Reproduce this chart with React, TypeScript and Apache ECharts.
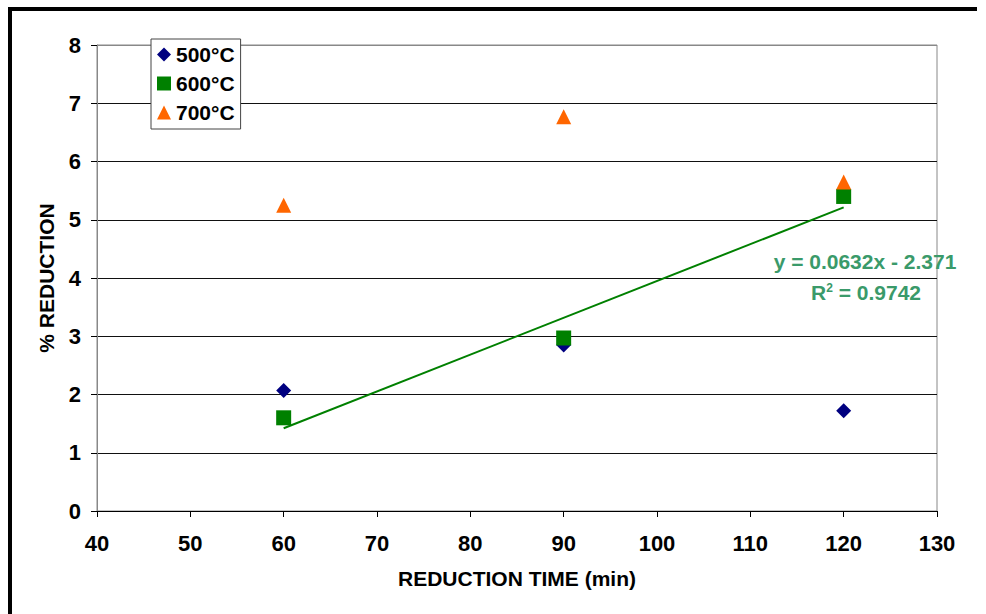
import React, { useEffect, useRef } from "react";
import * as echarts from "echarts";

const xTicks = [40, 130, 10];
const yTicks = [0, 8, 1];
const s500 = [[60, 2.07], [90, 2.85], [120, 1.72]];
const s600 = [[60, 1.6], [90, 2.97], [120, 5.4]];
const s700 = [[60, 5.25], [90, 6.77], [120, 5.65]];
const trendSlope = 0.0632;
const trendIntercept = -2.371;
const trendX = [60, 120];
const trendLabel = "y = 0.0632x - 2.371";
const r2Value = "0.9742";

const FONT = "'Liberation Sans', Arial, sans-serif";
const LABEL_GREEN = "#3A9A6A";

export default function App() {
  const ref = useRef<HTMLDivElement>(null);
  useEffect(() => {
    const chart = echarts.init(ref.current!, null, { renderer: "svg" });
    const trend = trendX.map((x) => [x, trendSlope * x + trendIntercept]);
    chart.setOption({
      animation: false,
      backgroundColor: "#fff",
      textStyle: { fontFamily: FONT },
      grid: {
        left: 97,
        right: 49,
        top: 45,
        bottom: 103,
        show: true,
        borderColor: "#888",
        borderWidth: 1,
        backgroundColor: "transparent",
      },
      legend: {
        data: ["500°C", "600°C", "700°C"],
        orient: "vertical",
        left: 151,
        top: 39,
        padding: [5, 6, 6, 6],
        itemGap: 8,
        itemWidth: 14,
        itemHeight: 14,
        itemStyle: { borderWidth: 0, opacity: 1 },
        backgroundColor: "#fff",
        borderColor: "#444",
        borderWidth: 1,
        textStyle: { fontFamily: FONT, fontWeight: "bold", fontSize: 21, color: "#000", lineHeight: 21 },
      },
      xAxis: {
        type: "value",
        min: xTicks[0],
        max: xTicks[1],
        interval: xTicks[2],
        name: "REDUCTION TIME (min)",
        nameLocation: "middle",
        nameGap: 57,
        nameTextStyle: { fontFamily: FONT, fontWeight: "bold", fontSize: 21, color: "#000" },
        axisLine: { lineStyle: { color: "#000", width: 1 } },
        axisTick: { show: true, length: 6, lineStyle: { color: "#000" } },
        axisLabel: { fontFamily: FONT, fontWeight: "bold", fontSize: 22, color: "#000", margin: 21 },
        splitLine: { show: false },
      },
      yAxis: {
        type: "value",
        min: yTicks[0],
        max: yTicks[1],
        interval: yTicks[2],
        name: "% REDUCTION",
        nameLocation: "middle",
        nameGap: 40,
        nameTextStyle: { fontFamily: FONT, fontWeight: "bold", fontSize: 21, color: "#000" },
        axisLine: { show: true, lineStyle: { color: "#888", width: 1 } },
        axisTick: { show: true, length: 6, lineStyle: { color: "#000" } },
        axisLabel: { fontFamily: FONT, fontWeight: "bold", fontSize: 22, color: "#000", margin: 16 },
        splitLine: {
          show: true,
          lineStyle: { color: ["#000", "#111", "#111", "#111", "#111", "#111", "#111", "#111", "#888"], width: 1 },
        },
      },
      series: [
        {
          name: "trend",
          type: "line",
          data: trend,
          symbol: "none",
          lineStyle: { color: "#008000", width: 2 },
          z: 2,
          silent: true,
        },
        {
          name: "500°C",
          type: "scatter",
          data: s500,
          symbol: "diamond",
          symbolSize: 15,
          itemStyle: { color: "#000080", opacity: 1 },
          z: 3,
        },
        {
          name: "600°C",
          type: "scatter",
          data: s600,
          symbol: "rect",
          symbolSize: 15,
          itemStyle: { color: "#008000", opacity: 1 },
          z: 4,
        },
        {
          name: "700°C",
          type: "scatter",
          data: s700,
          symbol: "triangle",
          symbolSize: 15,
          itemStyle: { color: "#FF6600", opacity: 1 },
          z: 5,
        },
      ],
      graphic: [
        { type: "rect", shape: { x: 8, y: 7, width: 4, height: 620 }, style: { fill: "#000" } },
        { type: "rect", shape: { x: 8, y: 7, width: 969, height: 4 }, style: { fill: "#000" } },
        {
          type: "text",
          x: 865,
          y: 261,
          style: {
            text: trendLabel,
            fill: LABEL_GREEN,
            font: `bold 21px ${FONT}`,
            align: "center",
            verticalAlign: "middle",
          },
        },
        {
          type: "text",
          x: 866,
          y: 292,
          style: {
            text: "{b|R}{s|2}{b| = " + r2Value + "}",
            fill: LABEL_GREEN,
            align: "center",
            verticalAlign: "middle",
            rich: {
              b: { font: `bold 21px ${FONT}`, fill: LABEL_GREEN, verticalAlign: "bottom" },
              s: { font: `bold 12px ${FONT}`, fill: LABEL_GREEN, verticalAlign: "top", padding: [0, 0, 9, 0] },
            },
          },
        },
      ],
    });
    return () => chart.dispose();
  }, []);
  return (
    <div
      ref={ref}
      style={{ position: "fixed", left: 0, top: 0, width: 986, height: 614 }}
    />
  );
}
